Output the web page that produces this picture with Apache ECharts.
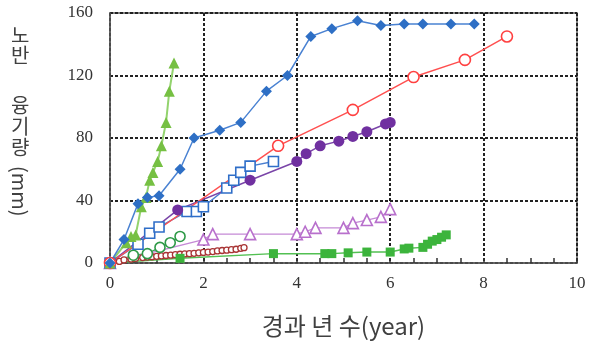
<!DOCTYPE html>
<html>
<head>
<meta charset="utf-8">
<script src="https://cdn.jsdelivr.net/npm/echarts@6/dist/echarts.min.js"></script>
<style>
  html, body { margin: 0; padding: 0; background: #fff; }
  #chart { width: 601px; height: 343px; }
</style>
</head>
<body>
<div id="chart"></div>
<script>
// Elapsed years (x) and heave in mm (y) for each monitored section
const secA_x = [0, 0.3, 0.6, 0.8, 1.05, 1.5, 1.8, 2.35, 2.8, 3.35, 3.8, 4.3, 4.75, 5.3, 5.8, 6.3, 6.7, 7.3, 7.8];
const secA_y = [0, 15, 38, 42, 43, 60, 80, 85, 90, 110, 120, 145, 150, 155, 152, 153, 153, 153, 153];

const secB_x = [0, 0.35, 0.45, 0.55, 0.67, 0.77, 0.85, 0.92, 1.02, 1.1, 1.2, 1.27, 1.37];
const secB_y = [0, 13, 17, 18, 36, 42, 53, 58, 65, 75, 90, 110, 128];

const secC_x = [0, 0.6, 0.85, 1.05, 1.65, 1.85, 2.0, 2.5, 2.65, 2.8, 3.0, 3.5];
const secC_y = [0, 12, 19, 23, 33, 33, 36, 48, 53, 58, 62, 65];

const secD_x = [0, 3.6, 5.2, 6.5, 7.6, 8.5];
const secD_y = [0, 75, 98, 119, 130, 145];

const secE_x = [0, 1.45, 3.0, 4.0, 4.2, 4.5, 4.9, 5.2, 5.5, 5.9, 6.0];
const secE_y = [0, 34, 53, 65, 70, 75, 78, 81, 84, 89, 90];

const secF_x = [0, 0.5, 0.8, 1.07, 1.29, 1.5];
const secF_y = [0, 5, 6, 10, 13, 17];

const secG_x = [0, 0.2, 0.3, 0.45, 0.55, 0.7, 0.8, 0.9, 1.0, 1.1, 1.2, 1.3, 1.4, 1.5, 1.6, 1.7, 1.8, 1.9, 2.0, 2.1, 2.2, 2.3, 2.4, 2.5, 2.6, 2.7, 2.8, 2.87];
const secG_y = [0, 1, 2, 2.5, 3, 3.5, 3.8, 4, 4.3, 4.5, 4.8, 5, 5.3, 5.6, 5.8, 6, 6.2, 6.5, 6.8, 7, 7.3, 7.7, 8, 8.2, 8.5, 8.8, 9.4, 9.8];

const secH_x = [0, 2.0, 2.2, 3.0, 4.0, 4.18, 4.4, 5.0, 5.2, 5.5, 5.8, 6.0];
const secH_y = [0, 15, 18.5, 18.5, 18.5, 20, 22.5, 22.5, 25.5, 27.5, 29.5, 34.5];

const secI_x = [0, 1.5, 3.5, 4.6, 4.75, 5.1, 5.5, 6.0, 6.3, 6.4, 6.7, 6.8, 6.9, 7.0, 7.1, 7.2];
const secI_y = [0, 3, 6, 6, 6, 6.5, 7, 7, 9, 9.5, 10, 12, 14, 15, 16.5, 18];

const xTicks = [0, 2, 4, 6, 8, 10];
const yTicks = [0, 40, 80, 120, 160];

function pairs(xs, ys) { return xs.map((x, i) => [x, ys[i]]); }

function line(xs, ys, opts) {
  return {
    type: 'line',
    data: pairs(xs, ys),
    symbol: opts.symbol,
    symbolSize: opts.size,
    showSymbol: true,
    animation: false,
    lineStyle: { color: opts.line, width: opts.lineWidth || 1.5 },
    itemStyle: opts.hollow
      ? { color: '#fff', borderColor: opts.mark, borderWidth: opts.bw || 1.6 }
      : { color: opts.mark, borderColor: opts.mark, borderWidth: 0 },
    z: opts.z || 2
  };
}

const chart = echarts.init(document.getElementById('chart'), null, { renderer: 'canvas' });

const serifFont = '"Liberation Serif", "DejaVu Serif", serif';
const krFont = '"Noto Sans CJK KR", "Noto Sans", sans-serif';

chart.setOption({
  backgroundColor: '#fff',
  animation: false,
  grid: { left: 110, right: 24, top: 13, bottom: 80, show: true, borderColor: '#5a5a5a', borderWidth: 1.5 },
  xAxis: {
    type: 'value', min: 0, max: 10, interval: 2,
    name: '경과 년 수(year)', nameLocation: 'middle', nameGap: 51,
    nameTextStyle: { fontFamily: krFont, fontSize: 24, color: '#404040' },
    axisLine: { show: true, lineStyle: { color: '#5a5a5a', width: 1.5 } },
    axisTick: { show: true, inside: true, length: 5, lineStyle: { color: '#333', width: 1.5 } },
    minorTick: { show: true, splitNumber: 4, length: 5, lineStyle: { color: '#333', width: 1.5 } },
    axisLabel: { fontFamily: serifFont, fontSize: 17, color: '#333', margin: 12,
      formatter: v => xTicks.includes(v) ? String(v) : '' },
    splitLine: { show: true, lineStyle: { color: '#222', width: 2, type: [3, 2] } }
  },
  yAxis: {
    type: 'value', min: 0, max: 160, interval: 40,
    axisLine: { show: true, lineStyle: { color: '#5a5a5a', width: 1.5 } },
    axisTick: { show: false },
    axisLabel: { fontFamily: serifFont, fontSize: 17, color: '#333', margin: 17,
      formatter: v => yTicks.includes(v) ? String(v) : '' },
    splitLine: { show: true, lineStyle: { color: '#222', width: 2, type: [3, 2] } }
  },
  graphic: [
    {
      type: 'text', left: 11, top: 25,
      style: { text: '노\n반', font: '20px ' + krFont, fill: '#404040', lineHeight: 20 }
    },
    {
      type: 'text', left: 11, top: 95,
      style: { text: '융\n기\n량', font: '20px ' + krFont, fill: '#404040', lineHeight: 21 }
    },
    {
      // Latin part of the vertical title, turned to read top-to-bottom
      type: 'text', left: 10, top: 166, rotation: -Math.PI / 2,
      style: { text: '(mm)', font: '20px ' + krFont, fill: '#404040' }
    }
  ],
  series: [
    line(secG_x, secG_y, { symbol: 'circle', size: 6, mark: '#a83434', line: '#c04040', hollow: true, bw: 1.3, lineWidth: 1 }),
    line(secF_x, secF_y, { symbol: 'circle', size: 10, mark: '#2f9a48', line: '#3ea055', hollow: true, lineWidth: 1.2 }),
    line(secI_x, secI_y, { symbol: 'rect', size: 9, mark: '#3cb43c', line: '#52c052' }),
    line(secH_x, secH_y, { symbol: 'triangle', size: 11, mark: '#b870cc', line: '#c58ad6', hollow: true, lineWidth: 1.3 }),
    line(secC_x, secC_y, { symbol: 'rect', size: 10, mark: '#2f6ec8', line: '#4a7fd0', hollow: true }),
    line(secE_x, secE_y, { symbol: 'circle', size: 11, mark: '#7030a0', line: '#7a45a8' }),
    line(secD_x, secD_y, { symbol: 'circle', size: 11, mark: '#ff4040', line: '#ff5050', hollow: true }),
    line(secB_x, secB_y, { symbol: 'triangle', size: 11, mark: '#76c043', line: '#93d36e', lineWidth: 2 }),
    line(secA_x, secA_y, { symbol: 'diamond', size: 11, mark: '#2e6fc5', line: '#4a82d2' })
  ]
});
</script>
</body>
</html>
